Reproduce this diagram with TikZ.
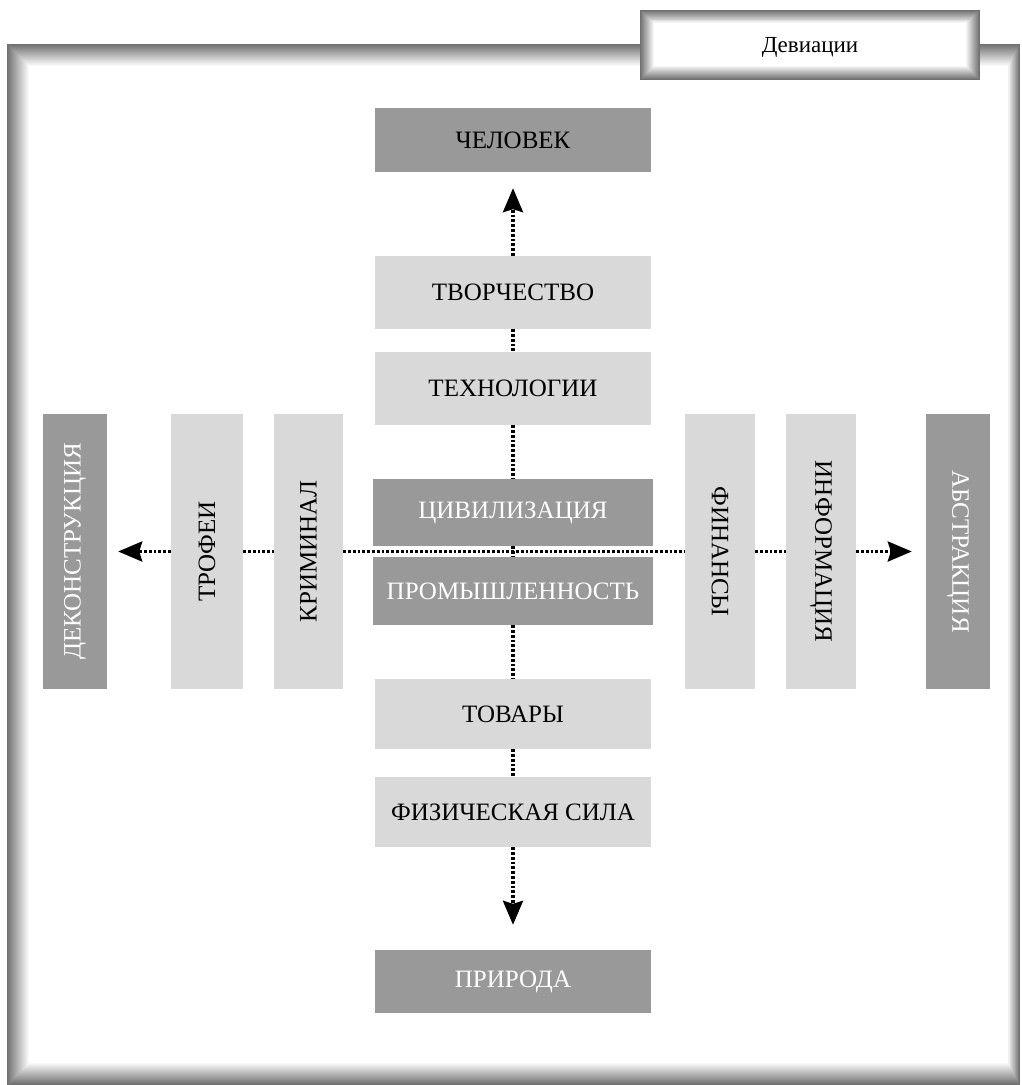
\documentclass[tikz,border=0pt]{standalone}
\usepackage{fontspec}
\setmainfont{Liberation Serif}
\usetikzlibrary{arrows.meta}

\definecolor{boxdark}{HTML}{999999}
\definecolor{boxlight}{HTML}{D9D9D9}

\begin{document}
\begin{tikzpicture}[x=1pt, y=-1pt,
  every node/.style={font=\fontsize{25}{28}\selectfont, inner sep=0pt},
  darkbox/.style={fill=boxdark, minimum width=276pt},
  lightbox/.style={fill=boxlight, minimum width=276pt},
  darkbar/.style={fill=boxdark, minimum width=275pt, minimum height=64pt, text=white},
  lightbar/.style={fill=boxlight, minimum width=275pt, minimum height=70pt},
  link/.style={line width=3.2pt, dash pattern=on 2.8pt off 2pt},
  arrow/.style={link, -{Stealth[length=24pt, width=20pt, inset=3pt]}}]

  \useasboundingbox (0,0) rectangle (1021,1085);

  \newcommand\XC{513}
  \newcommand\YC{551.5}

  % shaded frame
  \foreach \i in {0,...,22}{
    \pgfmathsetmacro\tone{56*(1-\i/22)}
    \fill[black!\tone] (7+\i,44+\i) rectangle (1020-0.55*\i,1085-\i);
  }

  % tab
  \foreach \i in {0,...,14}{
    \pgfmathsetmacro\tone{56*(1-\i/14)}
    \fill[black!\tone] (640+\i,10+0.95*\i) rectangle (980-\i,80-\i);
  }
  \node[font=\fontsize{23}{26}\selectfont] (tab) at (810,47) {Девиации};

  % vertical axis
  \node[darkbox, minimum height=64pt] (chel) at (\XC,140) {ЧЕЛОВЕК};
  \node[lightbox, minimum height=73pt] (tvor) at (\XC,292.5) {ТВОРЧЕСТВО};
  \node[lightbox, minimum height=73pt] (tekh) at (\XC,388.5) {ТЕХНОЛОГИИ};
  \node[darkbox, minimum width=280pt, minimum height=67pt, text=white] (civ) at (\XC,512.5) {ЦИВИЛИЗАЦИЯ};
  \node[darkbox, minimum width=280pt, minimum height=68pt, text=white] (prom) at (\XC,591) {ПРОМЫШЛЕННОСТЬ};
  \node[lightbox, minimum height=70pt] (tov) at (\XC,714) {ТОВАРЫ};
  \node[lightbox, minimum height=70pt] (fiz) at (\XC,812) {ФИЗИЧЕСКАЯ СИЛА};
  \node[darkbox, minimum height=63pt, text=white] (prir) at (\XC,981.5) {ПРИРОДА};

  % horizontal axis
  \node[darkbar, rotate=90] (dekon) at (75,\YC) {ДЕКОНСТРУКЦИЯ};
  \node[lightbar, rotate=90, minimum height=72pt] (trof) at (207,\YC) {ТРОФЕИ};
  \node[lightbar, rotate=90, minimum height=69pt] (krim) at (308.5,\YC) {КРИМИНАЛ};
  \node[lightbar, rotate=-90] (fin) at (720,\YC) {ФИНАНСЫ};
  \node[lightbar, rotate=-90] (inf) at (821,\YC) {ИНФОРМАЦИЯ};
  \node[darkbar, rotate=-90] (abs) at (958,\YC) {АБСТРАКЦИЯ};

  \draw[arrow, shorten >=16pt] (tvor) -- (chel);
  \draw[link] (tvor) -- (tekh);
  \draw[link] (tekh) -- (civ);
  \draw[link] (civ) -- (prom);
  \draw[link] (prom) -- (tov);
  \draw[link] (tov) -- (fiz);
  \draw[arrow, shorten >=25pt] (fiz) -- (prir);

  \draw[link] (krim) -- (fin);
  \draw[link] (trof) -- (krim);
  \draw[arrow, shorten >=11pt] (trof) -- (dekon);
  \draw[link] (fin) -- (inf);
  \draw[arrow, shorten >=14pt] (inf) -- (abs);

\end{tikzpicture}
\end{document}
